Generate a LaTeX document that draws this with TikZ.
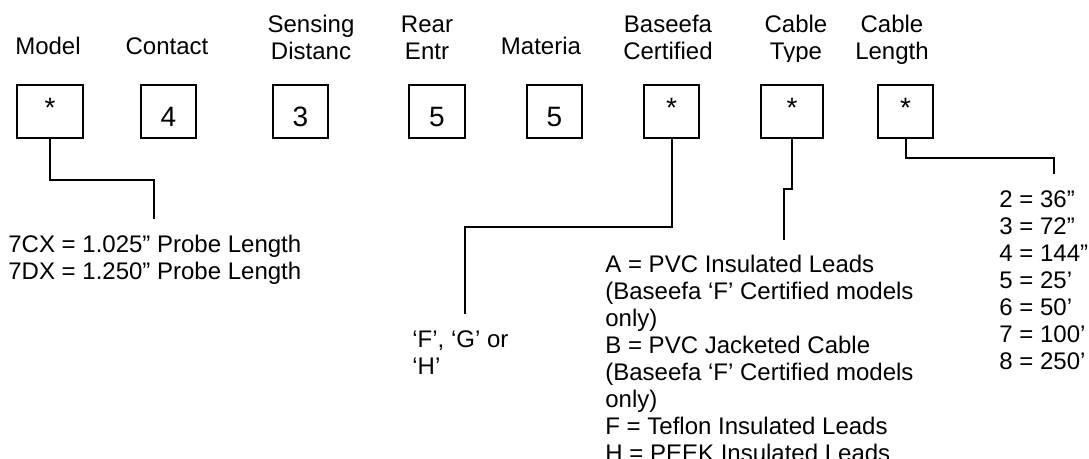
\documentclass[tikz,border=0pt]{standalone}
\usepackage{fontspec}
\setmainfont{Liberation Sans}
\usetikzlibrary{positioning}
\newcommand{\cellstar}{\raisebox{4.5pt}{*}}
\tikzset{
  cell/.style={draw, line width=1pt, minimum height=26.5pt, inner sep=0pt,
    text height=15.5pt, text depth=0pt, font=\fontsize{14}{16}\selectfont},
  head/.style={anchor=base, align=center, inner sep=0pt,
    font=\fontsize{12}{13.5}\selectfont},
  note/.style={anchor=base west, align=left, inner sep=0pt,
    font=\fontsize{12}{13.5}\selectfont},
  wire/.style={line width=1pt},
}
\begin{document}
\begin{tikzpicture}[x=0.5pt, y=-0.5pt]
\clip (0,0) rectangle (1089,459);

% headings (base = last line)
\node[head] (hmodel) at (48,55) {Model};
\node[head] (hcontact) at (167,55) {Contact};
\node[head] (hsensing) at (311,60) {Sensing\\Distanc};
\node[head] (hrear) at (427,60) {Rear\\Entr};
\node[head] (hmaterial) at (541,55) {Materia};
\node[head] (hcert) at (668,60) {Baseefa\\Certified};
\begin{scope}
  \clip (740,0) rectangle (850,62);
  \node[head] (hctype) at (796,60) {Cable\\Type};
\end{scope}
\node[head] (hclength) at (892,60) {Cable\\Length};

% code cells
\node[cell, minimum width=33pt] (model) at (50,111.5) {\cellstar};
\node[cell, minimum width=27.5pt] (contact) at (168.5,111.5) {4};
\node[cell, minimum width=27.5pt] (sensing) at (300.5,111.5) {3};
\node[cell, minimum width=28pt] (rear) at (437,111.5) {5};
\node[cell, minimum width=27.5pt] (material) at (554.5,111.5) {5};
\node[cell, minimum width=27.5pt] (cert) at (671.5,111.5) {\cellstar};
\node[cell, minimum width=31pt] (ctype) at (792,111.5) {\cellstar};
\node[cell, minimum width=27.5pt] (clength) at (905.5,111.5) {\cellstar};

\coordinate (modelend) at (154,219);
\coordinate (certend) at (465,314);
\coordinate (ctypeend) at (784,240);
\coordinate (clengthend) at (1054,174);

% option lists
\node[note] (nmodel) at (8,280) {7CX = 1.025” Probe Length\\7DX = 1.250” Probe Length};
\node[note] (ncert) at (412,375) {‘F’, ‘G’ or\\‘H’};
\node[note] (nctype) at (605,462) {A = PVC Insulated Leads\\(Baseefa ‘F’ Certified models\\only)\\B = PVC Jacketed Cable\\(Baseefa ‘F’ Certified models\\only)\\F = Teflon Insulated Leads\\H = PEEK Insulated Leads};
\node[note] (nclength) at (999,370) {2 = 36”\\3 = 72”\\4 = 144”\\5 = 25’\\6 = 50’\\7 = 100’\\8 = 250’};

\draw[wire] (model.south) -- ++(0,41) -| (modelend);
\draw[wire] (cert.south) -- ++(0,88) -| (certend);
\draw[wire] (ctype.south) -- ++(0,50) -| (ctypeend);
\draw[wire] (clength.south) -- ++(0,19) -| (clengthend);

\end{tikzpicture}
\end{document}
